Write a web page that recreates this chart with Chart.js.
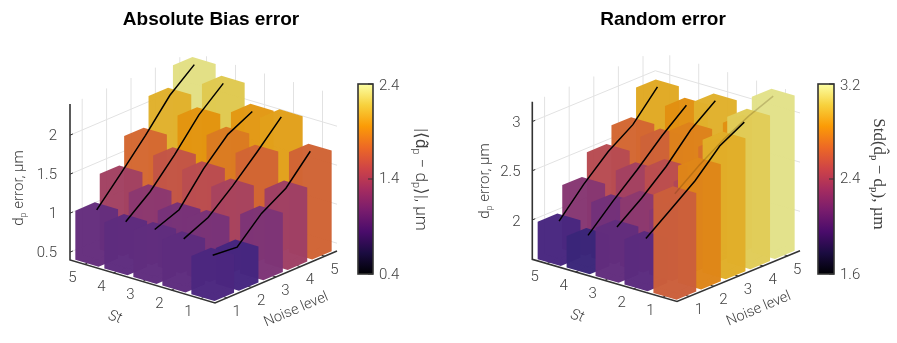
<!DOCTYPE html>
<html>
<head>
<meta charset="utf-8">
<style>
  html, body { margin: 0; padding: 0; background: #fff; }
  canvas { display: block; }
</style>
<script src="https://cdn.jsdelivr.net/npm/chart.js@4/dist/chart.umd.min.js"></script>
</head>
<body>
<canvas id="bars3d" width="897" height="343"></canvas>
<script>
// Values, one row per St, ordered by noise level 1..5
const stLevels = [1, 2, 3, 4, 5];
const noiseLevels = [1, 2, 3, 4, 5];

const biasSt1 = [0.89, 0.86, 1.16, 1.35, 1.69];
const biasSt2 = [0.99, 1.13, 1.40, 1.70, 2.02];
const biasSt3 = [1.00, 1.12, 1.51, 1.82, 1.98];
const biasSt4 = [0.99, 1.24, 1.58, 1.96, 2.23];
const biasSt5 = [1.03, 1.37, 1.72, 2.10, 2.36];

const randomSt1 = [2.60, 2.79, 2.95, 3.08, 3.18];
const randomSt2 = [2.06, 2.25, 2.44, 2.69, 2.83];
const randomSt3 = [2.09, 2.28, 2.50, 2.77, 2.96];
const randomSt4 = [1.92, 2.16, 2.38, 2.62, 2.83];
const randomSt5 = [1.98, 2.25, 2.48, 2.65, 2.93];

const biasTicks = [0.5, 1, 1.5, 2];
const randomTicks = [2, 2.5, 3];
const biasBarTicks = [0.4, 1.4, 2.4];
const randomBarTicks = [1.6, 2.4, 3.2];

// matplotlib inferno, evenly spaced stops
const inferno = ['#000004', '#1b0c41', '#4a0c6b', '#781c6d', '#a52c60', '#cf4446', '#ed6925', '#fb9b06', '#f7d13d', '#fcffa4'];

const BAR_WIDTH = 0.8;
const BAR_ALPHA = 0.98;
const BAR_SHADE = 0.9;
const BAR_TINT = [0, 34, 40];
const GRID = '#e2e2e2';
const AXIS = '#333333';
const TEXT = '#404040';
const SANS = '"Roboto", "Liberation Sans", sans-serif';

const panels = [
    {
        title: 'Absolute Bias error', titleX: 211,
        rows: [biasSt1, biasSt2, biasSt3, biasSt4, biasSt5],
        zMin: 0.4, zMax: 2.4, zTicks: biasTicks, barTicks: biasBarTicks,
        left: [70, 260], front: [215, 303], right: [337, 251], zPx: 78,
        buriedLines: [],
        bar: { x0: 358, x1: 373, top: 84, bottom: 274 },
        labelX: 57, labelDy: 1.5, zLabelX: 18, zLabelY: 188
    },
    {
        title: 'Random error', titleX: 663,
        rows: [randomSt1, randomSt2, randomSt3, randomSt4, randomSt5],
        zMin: 1.6, zMax: 3.2, zTicks: randomTicks, barTicks: randomBarTicks,
        left: [532.3, 259.3], front: [677, 301.5], right: [800, 250.7], zPx: 98.4,
        buriedLines: [1],
        bar: { x0: 818, x1: 834, top: 84, bottom: 274 },
        labelX: 520.5, labelDy: 2, zLabelX: 484, zLabelY: 181
    }
];

// Maps (St, noise, value) of a panel onto the chart's flat x / y scales
function project(p, st, noise, z) {
    const ux = (p.front[0] - p.left[0]) / 5, uy = (p.front[1] - p.left[1]) / 5;
    const vx = (p.right[0] - p.front[0]) / 5, vy = (p.right[1] - p.front[1]) / 5;
    const a = 5.5 - st, b = noise - 0.5;
    return {
        x: p.left[0] + a * ux + b * vx,
        y: p.left[1] + a * uy + b * vy - (z - p.zMin) * p.zPx
    };
}

function hexRgb(h) {
    return [1, 3, 5].map(i => parseInt(h.substr(i, 2), 16));
}

function colormap(t) {
    const f = Math.max(0, Math.min(1, t)) * (inferno.length - 1);
    const i = Math.min(Math.floor(f), inferno.length - 2);
    const a = hexRgb(inferno[i]), b = hexRgb(inferno[i + 1]);
    return a.map((c, k) => c + (b[k] - c) * (f - i));
}

function barColor(p, z) {
    const t = (z - p.zMin) / (p.zMax - p.zMin);
    const c = colormap(t).map((v, k) => Math.round(v * BAR_SHADE + BAR_TINT[k] * (1 - t)));
    return `rgba(${c[0]},${c[1]},${c[2]},${BAR_ALPHA})`;
}

const datasets = [];

function addPoly(points, color) {
    datasets.push({
        data: points, showLine: true, fill: 'shape', backgroundColor: color,
        borderWidth: 0, borderColor: 'rgba(0,0,0,0)', pointRadius: 0, clip: false,
        order: -datasets.length
    });
}

function addLine(points, color, width) {
    datasets.push({
        data: points, showLine: true, fill: false, borderColor: color,
        borderWidth: width, pointRadius: 0, clip: false, order: -datasets.length
    });
}

function addGrid(p) {
    const lo = 0.5, hi = 5.5;
    stLevels.forEach(s => {
        addLine([project(p, s, lo, p.zMin), project(p, s, hi, p.zMin)], GRID, 1);
        addLine([project(p, s, hi, p.zMin), project(p, s, hi, p.zMax)], GRID, 1);
    });
    noiseLevels.forEach(n => {
        addLine([project(p, lo, n, p.zMin), project(p, hi, n, p.zMin)], GRID, 1);
        addLine([project(p, hi, n, p.zMin), project(p, hi, n, p.zMax)], GRID, 1);
    });
    p.zTicks.forEach(z => {
        addLine([project(p, hi, lo, z), project(p, hi, hi, z), project(p, lo, hi, z)], GRID, 1);
    });
}

// One flat colour per bar, so the outline of the column is filled as a single shape
function addBar(p, s, n, z) {
    const w = BAR_WIDTH / 2;
    const s0 = s - w, s1 = s + w, n0 = n - w, n1 = n + w;
    addPoly([
        project(p, s0, n0, p.zMin), project(p, s0, n1, p.zMin), project(p, s0, n1, z),
        project(p, s1, n1, z), project(p, s1, n0, z), project(p, s1, n0, p.zMin)
    ], barColor(p, z));
}

function addTrend(p, s, color) {
    const row = p.rows[s - 1];
    addLine(noiseLevels.map((n, i) => project(p, s, n, row[i])), color, 1.5);
}

function addAxes(p) {
    const lo = 0.5, hi = 5.5;
    addLine([project(p, hi, lo, p.zMax), project(p, hi, lo, p.zMin), project(p, lo, lo, p.zMin), project(p, lo, hi, p.zMin)], AXIS, 1.6);
    p.zTicks.forEach(z => {
        addLine([project(p, hi, lo, z), project(p, hi, lo + 0.12, z)], AXIS, 1);
    });
    stLevels.forEach(s => {
        addLine([project(p, s, lo, p.zMin), project(p, s, lo + 0.12, p.zMin)], AXIS, 1);
    });
    noiseLevels.forEach(n => {
        addLine([project(p, lo, n, p.zMin), project(p, lo + 0.12, n, p.zMin)], AXIS, 1);
    });
}

panels.forEach(p => {
    addGrid(p);
    addAxes(p);
    // back to front so nearer bars cover the ones behind
    [...stLevels].reverse().forEach(s => {
        [...noiseLevels].reverse().forEach((n, i) => {
            addBar(p, s, n, p.rows[s - 1][noiseLevels.length - 1 - i]);
        });
    });
    // a line inside the front row only shows faintly through the bars
    [...stLevels].reverse().forEach(s => {
        addTrend(p, s, p.buriedLines.includes(s) ? 'rgba(70,40,0,0.22)' : '#000000');
    });
});

function put(ctx, str, x, y, font, opts = {}) {
    ctx.save();
    ctx.translate(x, y);
    if (opts.rot) ctx.rotate(opts.rot * Math.PI / 180);
    ctx.font = font;
    ctx.fillStyle = opts.color || TEXT;
    ctx.textAlign = opts.align || 'center';
    ctx.textBaseline = opts.baseline || 'middle';
    ctx.fillText(str, 0, 0);
    ctx.restore();
}

// Text made of several runs, centred on x,y and rotated, for the sub/superscripts
function putRuns(ctx, runs, x, y, rot) {
    ctx.save();
    ctx.translate(x, y);
    ctx.rotate(rot * Math.PI / 180);
    ctx.textBaseline = 'alphabetic';
    ctx.textAlign = 'left';
    ctx.fillStyle = TEXT;
    let total = 0;
    runs.forEach(r => { ctx.font = r.font; total += ctx.measureText(r.t).width; });
    let pos = -total / 2;
    runs.forEach(r => {
        ctx.font = r.font;
        ctx.fillText(r.t, pos, r.dy || 0);
        pos += ctx.measureText(r.t).width;
    });
    ctx.restore();
}

function drawColorbar(ctx, p) {
    const b = p.bar;
    const grad = ctx.createLinearGradient(0, b.bottom, 0, b.top);
    inferno.forEach((c, i) => grad.addColorStop(i / (inferno.length - 1), c));
    ctx.fillStyle = grad;
    ctx.fillRect(b.x0, b.top, b.x1 - b.x0, b.bottom - b.top);
    ctx.strokeStyle = AXIS;
    ctx.lineWidth = 1.6;
    ctx.strokeRect(b.x0, b.top, b.x1 - b.x0, b.bottom - b.top);
    p.barTicks.forEach(t => {
        const y = b.bottom - (t - p.zMin) / (p.zMax - p.zMin) * (b.bottom - b.top);
        ctx.lineWidth = 1;
        ctx.beginPath();
        ctx.moveTo(b.x1 - 5, y);
        ctx.lineTo(b.x1, y);
        ctx.stroke();
        put(ctx, String(t.toFixed(1)), b.x1 + 6, y + (t === p.zMax ? 2 : t === p.zMin ? 1 : 0), '300 15px ' + SANS, { align: 'left' });
    });
}

const textPlugin = {
    id: 'panelText',
    afterDatasetsDraw(chart) {
        const ctx = chart.ctx;
        const tick = '300 15px ' + SANS;
        panels.forEach(p => {
            put(ctx, p.title, p.titleX, 20, 'bold 19px "Liberation Sans", sans-serif', { color: '#000' });
            p.zTicks.forEach(z => {
                put(ctx, String(z), p.labelX, project(p, 5.5, 0.5, z).y + p.labelDy, tick, { align: 'right' });
            });
            stLevels.forEach(s => {
                const a = project(p, s, 0.5, p.zMin);
                put(ctx, String(s), a.x - 12, a.y + 14, tick);
            });
            noiseLevels.forEach(n => {
                const a = project(p, 0.5, n, p.zMin);
                put(ctx, String(n), a.x + 9.5, a.y + 14, tick);
            });
            const stPos = project(p, 3, 0.5, p.zMin);
            put(ctx, 'St', stPos.x - 27.5, stPos.y + 36, 'italic 300 15px ' + SANS, { rot: 16 });
            const noisePos = project(p, 0.5, 3.5, p.zMin);
            put(ctx, 'Noise level', noisePos.x + 8, noisePos.y + 38, '300 14.5px ' + SANS, { rot: -23 });
            putRuns(ctx, [
                { t: 'd', font: '300 15px ' + SANS },
                { t: 'p', font: '300 9px ' + SANS, dy: 3 },
                { t: ' error, µm', font: '300 15px ' + SANS }
            ], p.zLabelX + 5, p.zLabelY, -90);
            drawColorbar(ctx, p);
        });
        const leftFont = '300 17px ' + SANS;
        const leftSmall = '300 11px ' + SANS;
        putRuns(ctx, [
            { t: '|⟨d\u0302', font: leftFont }, { t: 'p', font: leftSmall, dy: 3 },
            { t: ' − d', font: leftFont }, { t: 'p', font: leftSmall, dy: 3 },
            { t: '⟩|, µm', font: leftFont }
        ], 416, 179.5, 90);
        const serif = '17px "Liberation Serif", serif';
        const small = '11px "Liberation Serif", serif';
        putRuns(ctx, [
            { t: 'Std(d\u0302', font: serif }, { t: 'p', font: small, dy: 3 },
            { t: ' − d', font: serif }, { t: 'p', font: small, dy: 3 },
            { t: '), µm', font: serif }
        ], 874, 174, 90);
    }
};

new Chart(document.getElementById('bars3d').getContext('2d'), {
    type: 'scatter',
    data: { datasets },
    options: {
        responsive: false,
        animation: false,
        events: [],
        layout: { padding: 0 },
        plugins: { legend: { display: false }, tooltip: { enabled: false }, title: { display: false } },
        scales: {
            x: { type: 'linear', display: false, min: 0, max: 897 },
            y: { type: 'linear', display: false, min: 0, max: 343, reverse: true }
        }
    },
    plugins: [textPlugin]
});
</script>
</body>
</html>
